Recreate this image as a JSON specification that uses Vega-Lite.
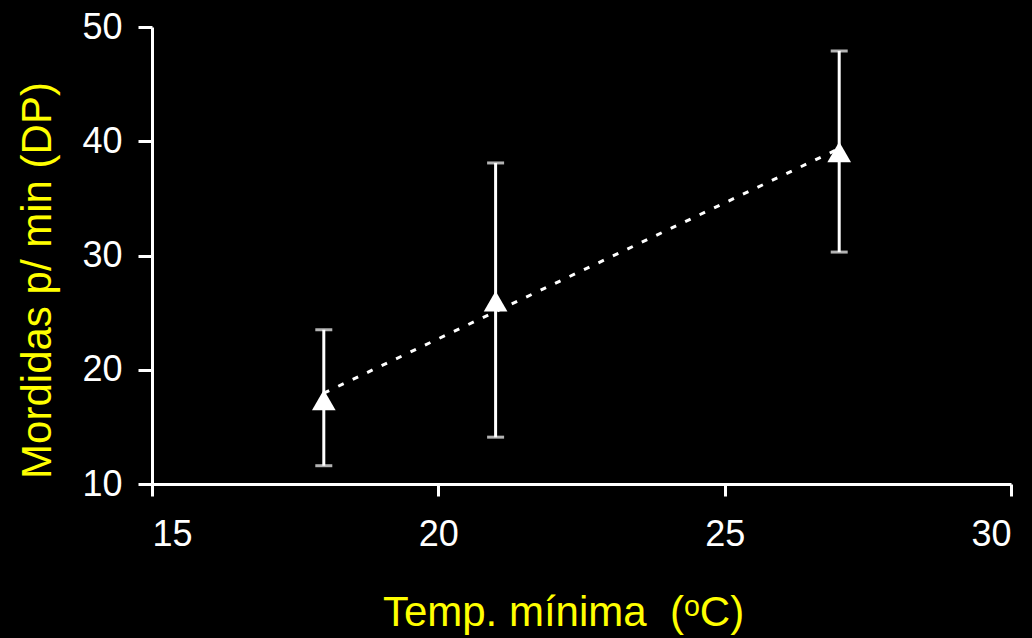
{
  "$schema": "https://vega.github.io/schema/vega-lite/v6.json",
  "autosize": {"type": "none"},
  "width": 859,
  "height": 457,
  "padding": {"left": 152, "top": 27, "right": 21, "bottom": 154},
  "background": "black",
  "config": {
    "view": {"stroke": null},
    "axis": {
      "domainColor": "white",
      "domainWidth": 3,
      "tickColor": "white",
      "tickWidth": 3,
      "grid": false,
      "labelColor": "white",
      "labelFont": "Liberation Sans",
      "labelFontSize": 36,
      "titleColor": "#ffff00",
      "titleFont": "Liberation Sans",
      "titleFontSize": 42,
      "titleFontWeight": "normal"
    }
  },
  "data": {
    "values": [
      {"temp": 18, "mordidas": 17.35, "low": 11.6, "high": 23.5},
      {"temp": 21, "mordidas": 26.0, "low": 14.1, "high": 38.1},
      {"temp": 27, "mordidas": 39.06, "low": 30.3, "high": 47.9}
    ]
  },
  "layer": [
    {
      "transform": [{"regression": "mordidas", "on": "temp"}],
      "mark": {"type": "line", "color": "white", "strokeWidth": 3, "strokeDash": [6, 10]},
      "encoding": {
        "x": {"field": "temp", "type": "quantitative", "scale": {"domain": [15, 30], "nice": false},
          "axis": {"values": [15, 20, 25, 30], "format": "d", "tickSize": 12, "labelPadding": 21, "title": "Temp. mínima \u00a0(ᵒC)", "titlePadding": 40, "titleX": 411}},
        "y": {"field": "mordidas", "type": "quantitative", "scale": {"domain": [10, 50], "nice": false},
          "axis": {"values": [10, 20, 30, 40, 50], "tickSize": 14, "labelPadding": 16, "title": "Mordidas p/ min (DP)", "titlePadding": 22, "titleY": 253}}
      }
    },
    {
      "mark": {"type": "rule", "color": "white", "strokeWidth": 3},
      "encoding": {
        "x": {"field": "temp", "type": "quantitative"},
        "y": {"field": "low", "type": "quantitative"},
        "y2": {"field": "high"}
      }
    },
    {
      "mark": {"type": "tick", "color": "white", "orient": "horizontal", "size": 17, "thickness": 3},
      "encoding": {
        "x": {"field": "temp", "type": "quantitative"},
        "y": {"field": "low", "type": "quantitative"}
      }
    },
    {
      "mark": {"type": "tick", "color": "white", "orient": "horizontal", "size": 17, "thickness": 3},
      "encoding": {
        "x": {"field": "temp", "type": "quantitative"},
        "y": {"field": "high", "type": "quantitative"}
      }
    },
    {
      "mark": {"type": "point", "shape": "triangle-up", "filled": true, "color": "white", "opacity": 1, "size": 560},
      "encoding": {
        "x": {"field": "temp", "type": "quantitative"},
        "y": {"field": "mordidas", "type": "quantitative"}
      }
    }
  ]
}
